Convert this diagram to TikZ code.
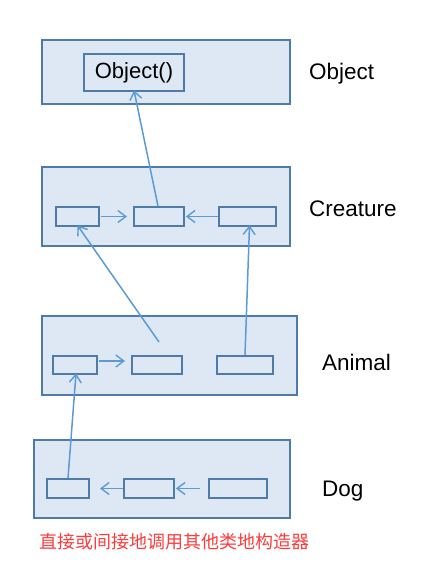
\documentclass[tikz,border=0pt]{standalone}
\usepackage{fontspec}
\setmainfont{Liberation Sans}
\newfontfamily\cjk{Noto Sans CJK SC}
\usetikzlibrary{arrows.meta}
\definecolor{boxfill}{HTML}{DEE8F5}
\definecolor{boxline}{HTML}{4F7BA8}
\definecolor{arrowcol}{HTML}{5B9BD5}
\definecolor{redtext}{HTML}{FF3B3B}
\begin{document}
\begin{tikzpicture}[x=1pt,y=-1pt,
  outerbox/.style={draw=boxline,fill=boxfill,line width=1.8pt},
  smallbox/.style={draw=boxline,fill=boxfill,line width=1.8pt},
  conn/.style={draw=arrowcol,line width=1.5pt,-{Straight Barb[length=8pt,width=12pt,line width=1.4pt]}},
  lbl/.style={font=\fontsize{22.5}{26}\selectfont,anchor=west,inner sep=0pt}]
\useasboundingbox (0,0) rectangle (423,563);
% outer boxes
\draw[outerbox] (42,40) rectangle (290,104);
\draw[outerbox] (42,167) rectangle (290,246);
\draw[outerbox] (42,316) rectangle (297,395);
\draw[outerbox] (34,440) rectangle (290,518);
% Object
\node[smallbox,minimum width=100pt,minimum height=37pt,inner sep=0pt,font=\fontsize{22}{26}\selectfont] (obj) at (134,72.5) {Object()};
% Creature boxes
\node[smallbox,minimum width=43pt,minimum height=19pt,inner sep=0pt] (c1) at (77.5,216.5) {};
\node[smallbox,minimum width=50pt,minimum height=19pt,inner sep=0pt] (c2) at (159,216.5) {};
\node[smallbox,minimum width=57pt,minimum height=19pt,inner sep=0pt] (c3) at (247.5,216.5) {};
% Animal boxes
\node[smallbox,minimum width=44pt,minimum height=18pt,inner sep=0pt] (a1) at (75,365) {};
\node[smallbox,minimum width=50pt,minimum height=18pt,inner sep=0pt] (a2) at (157,365) {};
\node[smallbox,minimum width=56pt,minimum height=18pt,inner sep=0pt] (a3) at (245,365) {};
% Dog boxes
\node[smallbox,minimum width=42pt,minimum height=19pt,inner sep=0pt] (d1) at (68,488.5) {};
\node[smallbox,minimum width=50pt,minimum height=19pt,inner sep=0pt] (d2) at (149,488.5) {};
\node[smallbox,minimum width=58pt,minimum height=19pt,inner sep=0pt] (d3) at (238,488.5) {};
% labels
\node[lbl] (lobj) at (309,74) {Object};
\node[lbl] (lcre) at (309,209) {Creature};
\node[lbl] (lani) at (322,362) {Animal};
\node[lbl] (ldog) at (322,491) {Dog};
\node[font=\cjk\fontsize{18}{21}\selectfont,text=redtext,anchor=west,inner sep=0pt] (note) at (39,542) {直接或间接地调用其他类地构造器};
% connectors
\coordinate (c1e) at (101,216.5);
\coordinate (c2w) at (127,216.5);
\draw[conn] (c1e) -- (c2w);
\draw[conn] (c3.west) -- ([xshift=1pt]c2.east);
\draw[conn] ([xshift=-1pt]c2.north) -- ([yshift=1.5pt]obj.south);
\coordinate (a1e) at (99,361);
\coordinate (a2w) at (125,361);
\draw[conn] (a1e) -- (a2w);
\coordinate (astart) at (159,342);
\draw[conn] (astart) -- ([yshift=1.5pt]c1.south);
\draw[conn] (a3.north) -- ([xshift=2pt,yshift=1.5pt]c3.south);
\coordinate (d1e) at (100,488.5);
\coordinate (d3w) at (200,488.5);
\draw[conn] (d2.west) -- (d1e);
\draw[conn] (d3w) -- ([xshift=1pt]d2.east);
\draw[conn] (d1.north) -- ([xshift=1pt,yshift=1.5pt]a1.south);
\end{tikzpicture}
\end{document}
